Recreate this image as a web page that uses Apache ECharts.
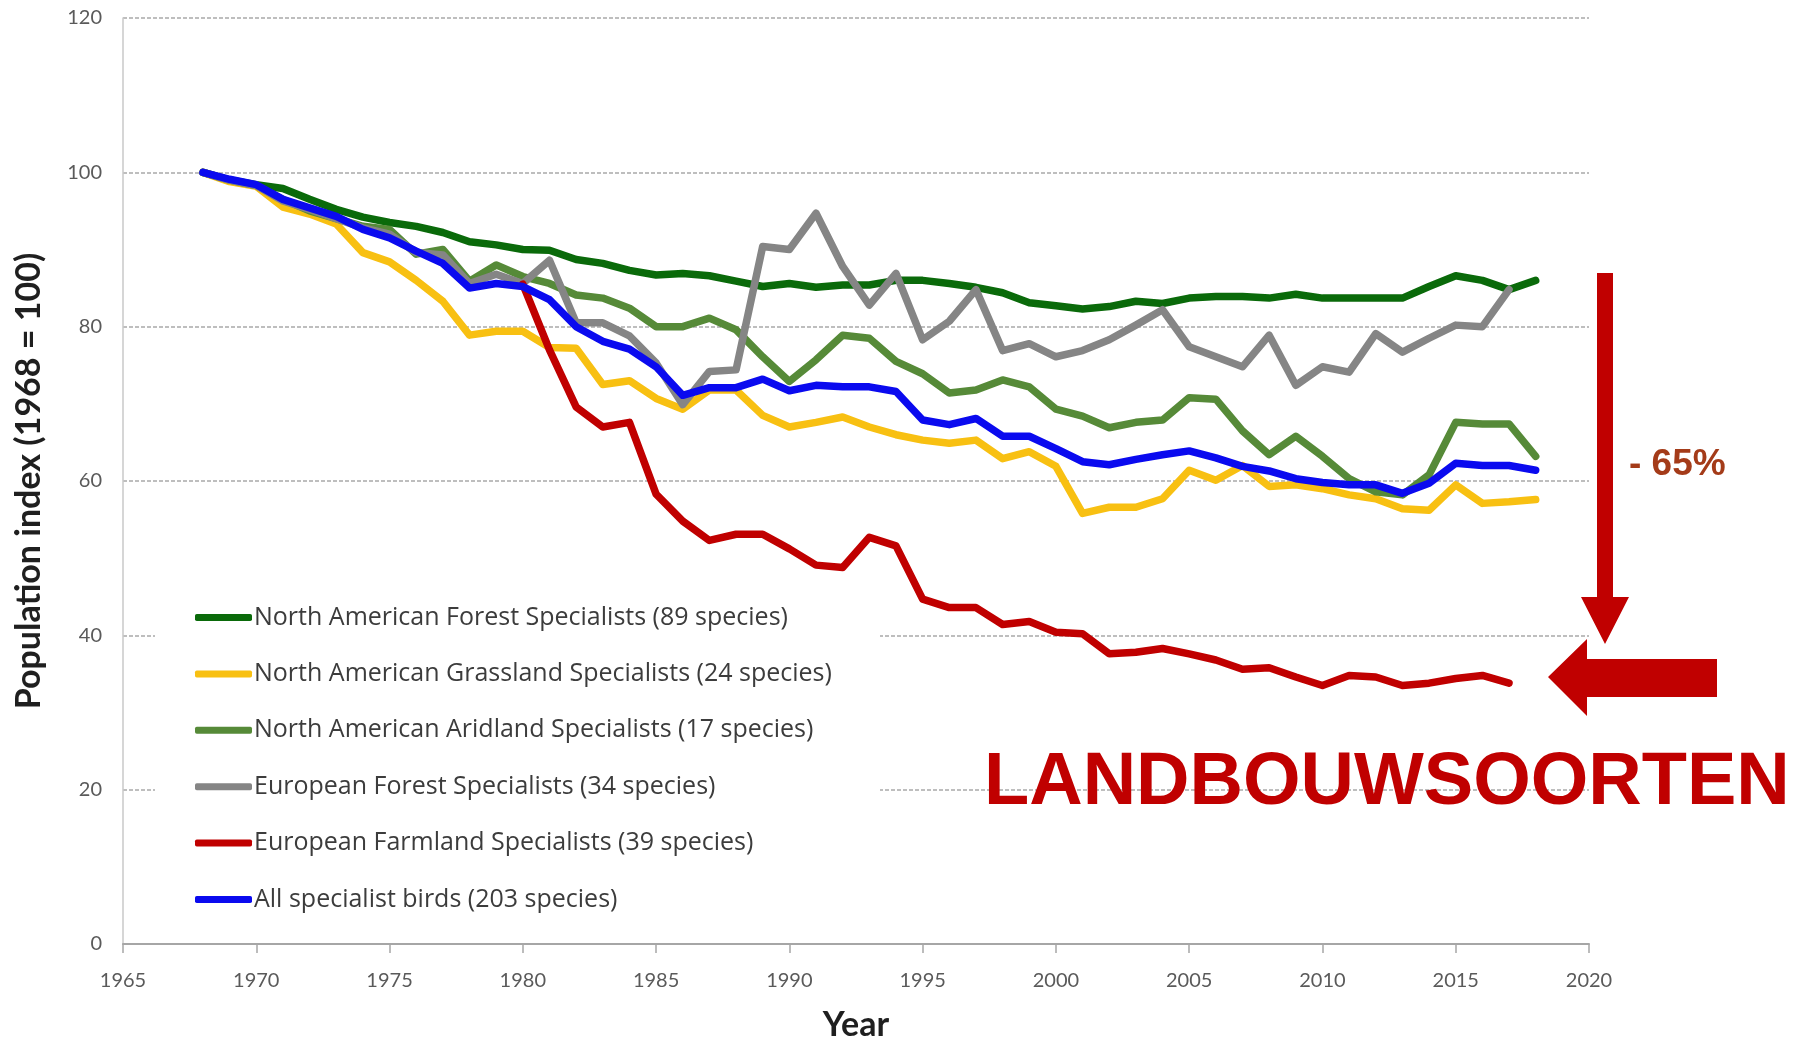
<!DOCTYPE html>
<html>
<head>
<meta charset="utf-8">
<title>Specialist birds population index</title>
<script src="https://cdn.jsdelivr.net/npm/echarts@6/dist/echarts.min.js"></script>
<style>
  html, body { margin: 0; padding: 0; background: #fff; }
  #chart { width: 1798px; height: 1041px; }
</style>
</head>
<body>
<div id="chart"></div>
<script>
  // years 1968 .. 2018
  const years = [];
  for (let y = 1968; y <= 2018; y++) years.push(y);

  // values (1968 = 100), null = no point
  const naForest = [100, 99.0, 98.4, 97.9, 96.5, 95.2, 94.2, 93.5, 93.0, 92.2,
    91.0, 90.6, 90.0, 89.9, 88.7, 88.2, 87.3, 86.7, 86.9, 86.6,
    85.9, 85.2, 85.6, 85.1, 85.4, 85.4, 86.0, 86.0, 85.6, 85.1,
    84.4, 83.1, 82.7, 82.3, 82.6, 83.3, 83.0, 83.7, 83.9, 83.9,
    83.7, 84.2, 83.7, 83.7, 83.7, 83.7, 85.2, 86.6, 86.0, 84.8, 86.0]
  const naGrass = [100, 98.8, 98.2, 95.5, 94.6, 93.3, 89.6, 88.4, 86.0, 83.3,
    78.9, 79.4, 79.4, 77.3, 77.2, 72.5, 73.0, 70.7, 69.3, 71.8,
    71.8, 68.5, 67.0, 67.6, 68.3, 67.0, 66.0, 65.3, 64.9, 65.3,
    62.9, 63.8, 61.9, 55.8, 56.6, 56.6, 57.7, 61.4, 60.1, 62.0,
    59.3, 59.5, 59.0, 58.2, 57.7, 56.4, 56.2, 59.5, 57.1, 57.3, 57.6]
  const naArid = [100, 99.0, 98.3, 96.5, 95.0, 94.0, 93.0, 92.6, 89.4, 90.0,
    85.9, 88.0, 86.5, 85.6, 84.1, 83.7, 82.4, 80.0, 80.0, 81.1,
    79.6, 76.1, 72.9, 75.7, 78.9, 78.5, 75.5, 73.9, 71.4, 71.8,
    73.1, 72.2, 69.3, 68.4, 66.9, 67.6, 67.9, 70.8, 70.6, 66.5,
    63.4, 65.8, 63.2, 60.3, 58.6, 58.2, 60.8, 67.6, 67.4, 67.4, 63.2]
  const euForest = [100, 99.0, 98.3, 96.3, 95.2, 94.0, 92.8, 92.0, 89.6, 89.3,
    85.6, 86.8, 85.6, 88.6, 80.5, 80.5, 78.8, 75.3, 69.9, 74.2,
    74.4, 90.4, 90.0, 94.7, 87.8, 82.8, 86.9, 78.3, 80.7, 84.8,
    76.9, 77.8, 76.1, 76.9, 78.3, 80.2, 82.2, 77.4, 76.1, 74.8,
    78.9, 72.4, 74.8, 74.1, 79.1, 76.7, 78.5, 80.2, 80.0, 84.8, null]
  const euFarm = [null, null, null, null, null, null, null, null, null, null,
    null, null, 85.5, 77.0, 69.6, 67.0, 67.6, 58.3, 54.8, 52.3,
    53.1, 53.1, 51.2, 49.1, 48.8, 52.7, 51.6, 44.7, 43.6, 43.6,
    41.4, 41.8, 40.4, 40.2, 37.6, 37.8, 38.3, 37.6, 36.8, 35.6,
    35.8, 34.6, 33.5, 34.8, 34.6, 33.5, 33.8, 34.4, 34.8, 33.8, null]
  const allSpec = [100, 99.1, 98.4, 96.5, 95.4, 94.3, 92.6, 91.5, 89.8, 88.2,
    85.0, 85.6, 85.2, 83.5, 80.0, 78.1, 77.1, 74.8, 71.1, 72.1,
    72.1, 73.2, 71.7, 72.4, 72.2, 72.2, 71.6, 67.9, 67.3, 68.1,
    65.8, 65.8, 64.2, 62.5, 62.1, 62.8, 63.4, 63.9, 63.0, 61.9,
    61.3, 60.3, 59.8, 59.5, 59.5, 58.4, 59.7, 62.3, 62.0, 62.0, 61.4]

  const seriesNames = [
    'North American Forest Specialists (89 species)',
    'North American Grassland Specialists (24 species)',
    'North American Aridland Specialists (17 species)',
    'European Forest Specialists (34 species)',
    'European Farmland Specialists (39 species)',
    'All specialist birds (203 species)'
  ]
  const seriesValues = [naForest, naGrass, naArid, euForest, euFarm, allSpec]
  const colors = ['#0a6a0a', '#f8c012', '#568a38', '#858585', '#c00000', '#0a0aef']

  const chart = echarts.init(document.getElementById('chart'))

  const series = seriesNames.map(function (name, k) {
    return {
      name: name,
      type: 'line',
      data: years.map(function (y, i) { return [y, seriesValues[k][i]] }),
      showSymbol: false,
      connectNulls: false,
      lineStyle: { width: 7.5, color: colors[k], cap: 'round', join: 'round' },
      itemStyle: { color: colors[k] },
      z: 2 + k
    }
  })

  const option = {
    animation: false,
    backgroundColor: '#ffffff',
    grid: { left: 123, right: 209, top: 18, bottom: 97, outerBoundsMode: 'none', containLabel: false },
    xAxis: {
      type: 'value',
      min: 1965,
      max: 2020,
      interval: 5,
      name: 'Year',
      nameLocation: 'middle',
      nameGap: 64,
      nameTextStyle: { fontFamily: 'Lato', fontWeight: 'bold', fontSize: 34, color: '#1f1f1f' },
      axisLine: { lineStyle: { color: '#a6a6a6', width: 2 } },
      axisTick: { show: true, length: 9, lineStyle: { color: '#a6a6a6', width: 1.5 } },
      axisLabel: {
        margin: 27,
        fontFamily: 'Lato',
        fontSize: 20,
        color: '#5a5a5a',
        formatter: function (v) { return String(v) }
      },
      splitLine: { show: false }
    },
    yAxis: {
      type: 'value',
      min: 0,
      max: 120,
      interval: 20,
      name: 'Population index (1968 = 100)',
      nameLocation: 'middle',
      nameRotate: 90,
      nameGap: 77,
      nameTextStyle: { fontFamily: 'Lato', fontWeight: 'bold', fontSize: 34, color: '#1f1f1f' },
      axisLine: { show: true, lineStyle: { color: '#c8c8c8', width: 1.5 } },
      axisTick: { show: false },
      axisLabel: { margin: 21, fontFamily: 'Lato', fontSize: 20, color: '#5a5a5a' },
      splitLine: { show: true, lineStyle: { color: '#a9a9a9', width: 1.5, type: [4, 2] } }
    },
    legend: {
      orient: 'vertical',
      left: 195,
      top: 605,
      padding: 0,
      itemGap: 31.4,
      itemWidth: 57,
      itemHeight: 7,
      icon: 'roundRect',
      textStyle: { fontFamily: 'Open Sans', fontSize: 25, color: '#3c3c3c', lineHeight: 25, padding: [0, 0, 0, -3] },
      data: seriesNames
    },
    graphic: [
      // white box behind the legend, hides the grid lines there
      { type: 'rect', z: 1, shape: { x: 155, y: 585, width: 725, height: 330 }, style: { fill: '#ffffff' } },
      // vertical arrow
      {
        type: 'polygon', z: 20,
        shape: { points: [[1597, 273], [1613, 273], [1613, 597], [1629, 597], [1605, 644], [1581, 597], [1597, 597]] },
        style: { fill: '#c00000' }
      },
      // horizontal arrow
      {
        type: 'polygon', z: 20,
        shape: { points: [[1717, 659], [1587, 659], [1587, 639], [1548, 677], [1587, 716], [1587, 697], [1717, 697]] },
        style: { fill: '#c00000' }
      },
      {
        type: 'text', z: 20, left: 1629, top: 446,
        style: { text: '- 65%', fill: '#a43b19', font: 'bold 37px "Liberation Sans", Arial, sans-serif' }
      },
      {
        type: 'text', z: 20, x: 984, y: 784,
        style: {
          text: 'LANDBOUWSOORTEN', fill: '#c00000',
          font: 'bold 74px "Liberation Sans", Arial, sans-serif',
          textAlign: 'left', textVerticalAlign: 'middle'
        }
      }
    ],
    series: series
  }

  chart.setOption(option)
  window.onresize = function () { chart.resize() }
</script>
</body>
</html>
